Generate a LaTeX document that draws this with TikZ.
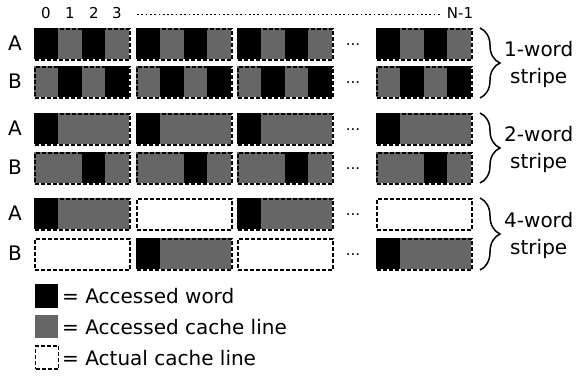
\documentclass[tikz,border=0pt]{standalone}
\usepackage{fontspec}
\setmainfont{DejaVu Sans}
\usetikzlibrary{decorations.pathreplacing,calc}
\definecolor{cellgray}{RGB}{102,102,102}
\newcommand{\mkline}[4]{%
  \foreach \cc [count=\k from 0] in {#4} {%
    \ifnum\cc=1 \fill[cellgray] ({#1+23.75*\k},#2) rectangle ++(23.75,31);\fi
    \ifnum\cc=2 \fill[black] ({#1+23.75*\k},#2) rectangle ++(23.75,31);\fi
  }%
  \node[cacheline] (#3) at (#1,#2) {};%
}
\begin{document}
\begin{tikzpicture}[x=1pt,y=-1pt,
  lbl/.style={font=\fontsize{20}{27}\selectfont, inner sep=0},
  idx/.style={font=\fontsize{15}{17}\selectfont, inner sep=0, anchor=base},
  dashline/.style={draw, dash pattern=on 4pt off 2pt, line width=1.7pt},
  cacheline/.style={dashline, minimum width=95pt, minimum height=31pt,
    inner sep=0, anchor=north west},
  bracestyle/.style={decorate, decoration={brace, amplitude=20pt}, line width=1.5pt},
  legbox/.style={minimum width=23pt, minimum height=23.5pt, inner sep=0}
]
\useasboundingbox (0,0) rectangle (578,375);

% column indices
\node[idx] (i0) at (46,18.5) {0};
\node[idx] (i1) at (70,18.5) {1};
\node[idx] (i2) at (94,18.5) {2};
\node[idx] (i3) at (117,18.5) {3};
\node[idx] (iN) at (460,18.5) {N-1};
\coordinate (dotsL) at (137,14.5);
\coordinate (dotsR) at (441,14.5);
\draw[line width=1.7pt, dash pattern=on 1.7pt off 2.6pt] (dotsL) -- (dotsR);

% rows
\foreach \x/\c in {34/1,136/2,237/3,376/4} {
  \mkline{\x}{28}{r1c\c}{2,1,2,1}
  \mkline{\x}{66}{r2c\c}{1,2,1,2}
  \mkline{\x}{113}{r3c\c}{2,1,1,1}
  \mkline{\x}{152}{r4c\c}{1,1,2,1}
}
\mkline{34}{198}{r5c1}{2,1,1,1}
\mkline{136}{198}{r5c2}{0,0,0,0}
\mkline{237}{198}{r5c3}{2,1,1,1}
\mkline{376}{198}{r5c4}{0,0,0,0}
\mkline{34}{238}{r6c1}{0,0,0,0}
\mkline{136}{238}{r6c2}{2,1,1,1}
\mkline{237}{238}{r6c3}{0,0,0,0}
\mkline{376}{238}{r6c4}{2,1,1,1}

% row labels and ellipses
\foreach \y/\t/\n in {43.5/A/1,81.5/B/2,128.5/A/3,167.5/B/4,213.5/A/5,253.5/B/6} {
  \node[lbl] (lab\n) at (15,\y) {\t};
  \node[idx] (ell\n) at (353,\y+1.5) {...};
}

% braces and stripe labels
\coordinate (b1s) at (480,28);  \coordinate (b1e) at (480,98);
\coordinate (b2s) at (480,113); \coordinate (b2e) at (480,183);
\coordinate (b3s) at (480,198); \coordinate (b3e) at (480,270);
\draw[bracestyle] (b1s) -- (b1e);
\draw[bracestyle] (b2s) -- (b2e);
\draw[bracestyle] (b3s) -- (b3e);
\node[lbl, align=center, anchor=west] (s1) at (504,64) {1-word\\stripe};
\node[lbl, align=center, anchor=west] (s2) at (504,149) {2-word\\stripe};
\node[lbl, align=center, anchor=west] (s3) at (504,235) {4-word\\stripe};

% legend
\node[legbox, fill=black] (k1) at (46.5,296) {};
\node[legbox, fill=cellgray] (k2) at (46.5,326.5) {};
\node[legbox, dashline, minimum width=23pt, minimum height=23pt] (k3) at (47,357.5) {};
\node[lbl, anchor=west] (t1) at (62,296) {= Accessed word};
\node[lbl, anchor=west] (t2) at (62,327) {= Accessed cache line};
\node[lbl, anchor=west] (t3) at (62,358) {= Actual cache line};
\end{tikzpicture}
\end{document}
